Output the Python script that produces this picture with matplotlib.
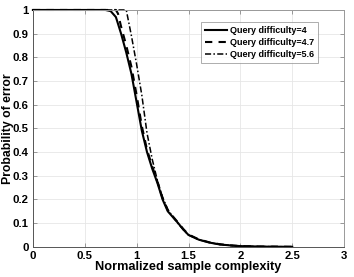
import numpy as np
import matplotlib.pyplot as plt

plt.rcParams['font.family'] = ['Liberation Sans', 'DejaVu Sans']
plt.rcParams['font.weight'] = 'bold'

# difficulty = 4
x4 = [0, 0.70, 0.75, 0.80, 0.85, 0.90, 0.95, 1.00, 1.05, 1.10, 1.15, 1.20, 1.25,
      1.30, 1.35, 1.40, 1.45, 1.50, 1.60, 1.70, 1.80, 1.90, 2.00, 2.20, 2.50]
y4 = [1, 1, 0.995, 0.97, 0.90, 0.82, 0.73, 0.61, 0.49, 0.40, 0.33, 0.27, 0.20,
      0.15, 0.125, 0.10, 0.073, 0.05, 0.03, 0.018, 0.01, 0.006, 0.003, 0.001, 0.0]

# difficulty = 4.7
x47 = [0, 0.80, 0.82, 0.85, 0.90, 0.95, 1.00, 1.05, 1.10, 1.15, 1.20, 1.25,
       1.30, 1.35, 1.40, 1.45, 1.50, 1.60, 1.70, 1.80, 1.90, 2.00, 2.20, 2.50]
y47 = [1, 1, 0.985, 0.93, 0.85, 0.76, 0.64, 0.51, 0.41, 0.34, 0.275, 0.205,
       0.155, 0.128, 0.102, 0.075, 0.052, 0.031, 0.019, 0.011, 0.006, 0.003, 0.001, 0.0]

# difficulty = 5.6
x56 = [0, 0.90, 0.95, 1.00, 1.05, 1.10, 1.15, 1.20, 1.25, 1.30, 1.35, 1.40,
       1.45, 1.50, 1.60, 1.70, 1.80, 1.90, 2.00, 2.20, 2.50]
y56 = [1, 1, 0.89, 0.77, 0.64, 0.48, 0.37, 0.28, 0.21, 0.158, 0.126, 0.098,
       0.072, 0.05, 0.03, 0.018, 0.01, 0.006, 0.003, 0.001, 0.0]

fig = plt.figure(figsize=(3.54, 2.77), dpi=100)
ax = fig.add_axes([0.093, 0.109, 0.879, 0.855])

ax.plot(x4, y4, 'k-', lw=1.5, clip_on=False, label='Query difficulty=4')
ax.plot(x47, y47, 'k--', lw=1.5, dashes=(3.5, 3), clip_on=False, label='Query difficulty=4.7')
ax.plot(x56, y56, 'k-.', lw=1.1, dashes=(4, 1.5, 1, 1.5), clip_on=False,
        label='Query difficulty=5.6')

ax.set_xlim(0, 3)
ax.set_ylim(0, 1)
ax.set_xticks(np.arange(0, 3.01, 0.5))
ax.set_xticklabels(['0', '0.5', '1', '1.5', '2', '2.5', '3'])
ax.set_yticks(np.arange(0, 1.01, 0.1))
ax.set_yticklabels(['0', '0.1', '0.2', '0.3', '0.4', '0.5', '0.6', '0.7', '0.8', '0.9', '1'])
ax.grid(True, color='#e6e6e6', lw=0.6)
ax.set_axisbelow(True)
ax.tick_params(direction='in', length=3, width=0.5, color='#777777',
               labelsize=8.2, top=True, right=True, pad=3)
for s in ax.spines.values():
    s.set_color('#999999')
    s.set_linewidth(0.7)
ax.spines['left'].set_color('#555555')
ax.spines['bottom'].set_color('#555555')

ax.set_xlabel('Normalized sample complexity', fontsize=9.2, fontweight='bold', labelpad=0)
ax.set_ylabel('Probability of error', fontsize=8.8, fontweight='bold')
ax.yaxis.set_label_coords(-0.061, 0.5)

leg = ax.legend(loc='upper right', bbox_to_anchor=(0.916, 0.95), fontsize=6.5,
                frameon=True, fancybox=False, handlelength=2.4, handletextpad=0.3,
                borderpad=0.45, labelspacing=0.35, borderaxespad=0)
leg.get_frame().set_edgecolor('#888888')
leg.get_frame().set_linewidth(0.6)

fig.savefig('out.png', dpi=100)
